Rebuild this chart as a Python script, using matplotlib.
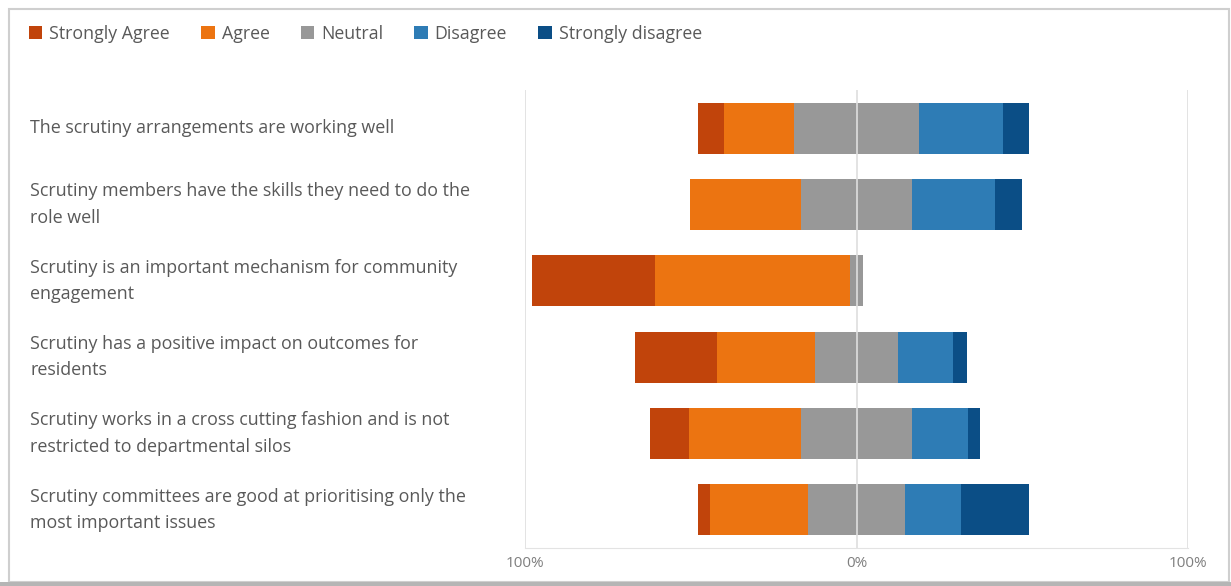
import numpy as np
import matplotlib.pyplot as plt
from matplotlib.patches import Rectangle
from matplotlib.transforms import blended_transform_factory

statements = [
    "The scrutiny arrangements are working well",
    "Scrutiny members have the skills they need to do the\nrole well",
    "Scrutiny is an important mechanism for community\nengagement",
    "Scrutiny has a positive impact on outcomes for\nresidents",
    "Scrutiny works in a cross cutting fashion and is not\nrestricted to departmental silos",
    "Scrutiny committees are good at prioritising only the\nmost important issues",
]
categories = ["Strongly Agree", "Agree", "Neutral", "Disagree", "Strongly disagree"]
colors = ["#C1440B", "#EC7411", "#989898", "#2E7CB5", "#0B4E86"]

# percentages per statement
strongly_agree = [7.9, 0.0, 37.2, 24.8, 11.8, 3.6]
agree = [21.1, 33.5, 58.6, 29.6, 33.8, 29.6]
neutral = [37.9, 33.2, 4.2, 25.1, 33.2, 29.3]
disagree = [25.1, 25.1, 0.0, 16.6, 16.9, 16.9]
strongly_disagree = [8.1, 8.2, 0.0, 4.2, 3.9, 20.5]

plt.rcParams['font.family'] = ['Open Sans', 'DejaVu Sans']

fig = plt.figure(figsize=(12.31, 5.86), dpi=100)
W, H = 1231, 586
ax = fig.add_axes([525 / W, 1 - 548 / H, (1188 - 525) / W, (548 - 90) / H])

data = np.array([strongly_agree, agree, neutral, disagree, strongly_disagree])
y = np.arange(len(statements))
left = -(data[0] + data[1] + data[2] / 2)
for i, cat in enumerate(categories):
    ax.barh(y, data[i], left=left, height=0.67, color=colors[i], label=cat, zorder=2)
    left = left + data[i]

ax.set_xlim(-100, 100)
ax.set_ylim(len(statements) - 0.5, -0.5)
ax.set_xticks([-100, 0, 100])
ax.set_xticklabels(["100%", "0%", "100%"])
ax.tick_params(axis='x', length=0, pad=6, labelsize=11, labelcolor="#7f7f7f")
ax.set_yticks([])
for s in ["top", "left", "right"]:
    ax.spines[s].set_visible(False)
ax.spines["bottom"].set_color("#e3e3e3")
for xv in [-100, 0, 100]:
    ax.axvline(xv, color="#dedede", lw=1.2, zorder=1 if xv != 0 else 3)

trans = blended_transform_factory(fig.transFigure, ax.transData)
for yi, s in zip(y, statements):
    ax.text(30 / W, yi, s, transform=trans, ha='left', va='center',
            fontsize=12.9, color="#595959", linespacing=1.6)

handles, labels = ax.get_legend_handles_labels()
fig.legend(handles, labels, loc='center left', bbox_to_anchor=(13 / W, 1 - 34 / H),
           ncol=5, frameon=False, fontsize=12.8, labelcolor="#595959",
           handlelength=0.75, handleheight=0.75, handletextpad=0.4, columnspacing=1.75)

# outer frame of the screenshot
fig.patches.append(Rectangle((9 / W, 1 - 582 / H), (1229 - 9) / W, (582 - 9) / H,
                             transform=fig.transFigure, fill=False,
                             edgecolor="#cfcfcf", lw=1.5))
fig.patches.append(Rectangle((0, 0), 1, 4 / H, transform=fig.transFigure,
                             color="#b5b5b5", lw=0))

fig.savefig("out.png", dpi=100)
